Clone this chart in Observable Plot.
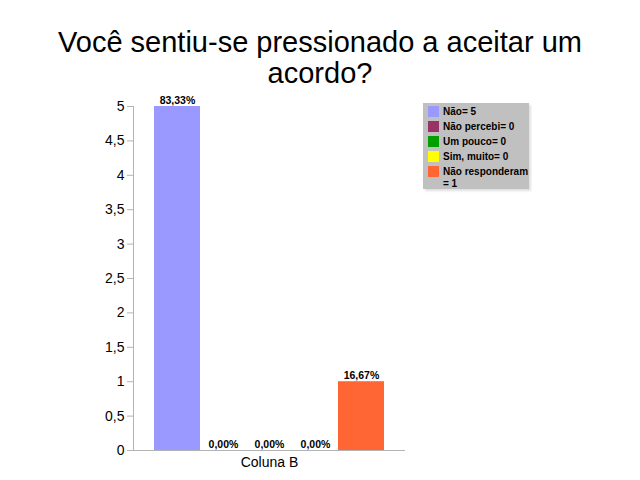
<!DOCTYPE html>
<html>
<head>
<meta charset="utf-8">
<script src="https://cdn.jsdelivr.net/npm/d3@7"></script>
<script src="https://cdn.jsdelivr.net/npm/@observablehq/plot@0.6"></script>
<style>
  html, body { margin: 0; padding: 0; background: #fff; }
  #wrap { position: relative; width: 640px; height: 480px; font-family: "Liberation Sans", Arial, sans-serif; }
  #title { position: absolute; left: 0; top: 27px; width: 640px; text-align: center; font-size: 29px; line-height: 31px; color: #000; }
  #chart { position: absolute; left: 0; top: 95px; }
  #legend { position: absolute; left: 423px; top: 103px; width: 106px; height: 86px; background: #c0c0c0; box-shadow: 2px 2px 2px #e0e0e0; font-size: 10px; font-weight: bold; color: #000; }
  .item { position: relative; padding-left: 20px; width: 86px; line-height: 12px; margin-top: 3px; }
  .sw { position: absolute; left: 5px; top: 0; width: 11px; height: 11px; }
</style>
</head>
<body>
<div id="wrap">
  <div id="title"></div>
  <div id="chart"></div>
  <div id="legend"></div>
</div>
<script>
const titleLines = ["Você sentiu-se pressionado a aceitar um", "acordo?"];
const categories = ["Não= 5", "Não percebi= 0", "Um pouco= 0", "Sim, muito= 0", "Não responderam = 1"];
const values = [5, 0, 0, 0, 1];
const percentLabels = ["83,33%", "0,00%", "0,00%", "0,00%", "16,67%"];
const colors = ["#9999ff", "#993366", "#00a000", "#ffff00", "#ff6633"];
const yTicks = [0, 0.5, 1, 1.5, 2, 2.5, 3, 3.5, 4, 4.5, 5];
const groupLabel = ["Coluna B"];

const titleEl = document.getElementById("title");
titleLines.forEach(t => { const d = document.createElement("div"); d.textContent = t; titleEl.appendChild(d); });

const data = categories.map((c, i) => ({category: c, value: values[i], pct: percentLabels[i]}));
const fmt = d => String(d).replace(".", ",");

const chart = Plot.plot({
  width: 640,
  height: 385,
  marginLeft: 133,
  marginRight: 235,
  marginTop: 11,
  marginBottom: 30,
  style: {fontFamily: "Liberation Sans, Arial, sans-serif", background: "transparent"},
  x: {domain: categories, paddingInner: 0, paddingOuter: 0.45, axis: null},
  y: {domain: [0, 5]},
  color: {domain: categories, range: colors},
  marks: [
    Plot.axisY({ticks: yTicks, tickFormat: fmt, tickSize: 6, tickPadding: 3, fontSize: 14, stroke: "#b3b3b3", label: null}),
    Plot.frame({anchor: "left", stroke: "#b3b3b3"}),
    Plot.barY(data, {x: "category", y: "value", fill: "category"}),
    Plot.ruleY([0], {stroke: "#b3b3b3"}),
    Plot.text(data, {x: "category", y: "value", text: "pct", dy: -6, fontSize: 10.5, fontWeight: "bold", fill: "#000"}),
    Plot.text(groupLabel, {frameAnchor: "bottom", text: d => d, dy: 16, fontSize: 14, fill: "#000"})
  ]
});
document.getElementById("chart").appendChild(chart);

const legend = document.getElementById("legend");
categories.forEach((c, i) => {
  const item = document.createElement("div");
  item.className = "item";
  const sw = document.createElement("span");
  sw.className = "sw";
  sw.style.background = colors[i];
  item.appendChild(sw);
  item.appendChild(document.createTextNode(c));
  legend.appendChild(item);
});
</script>
</body>
</html>
